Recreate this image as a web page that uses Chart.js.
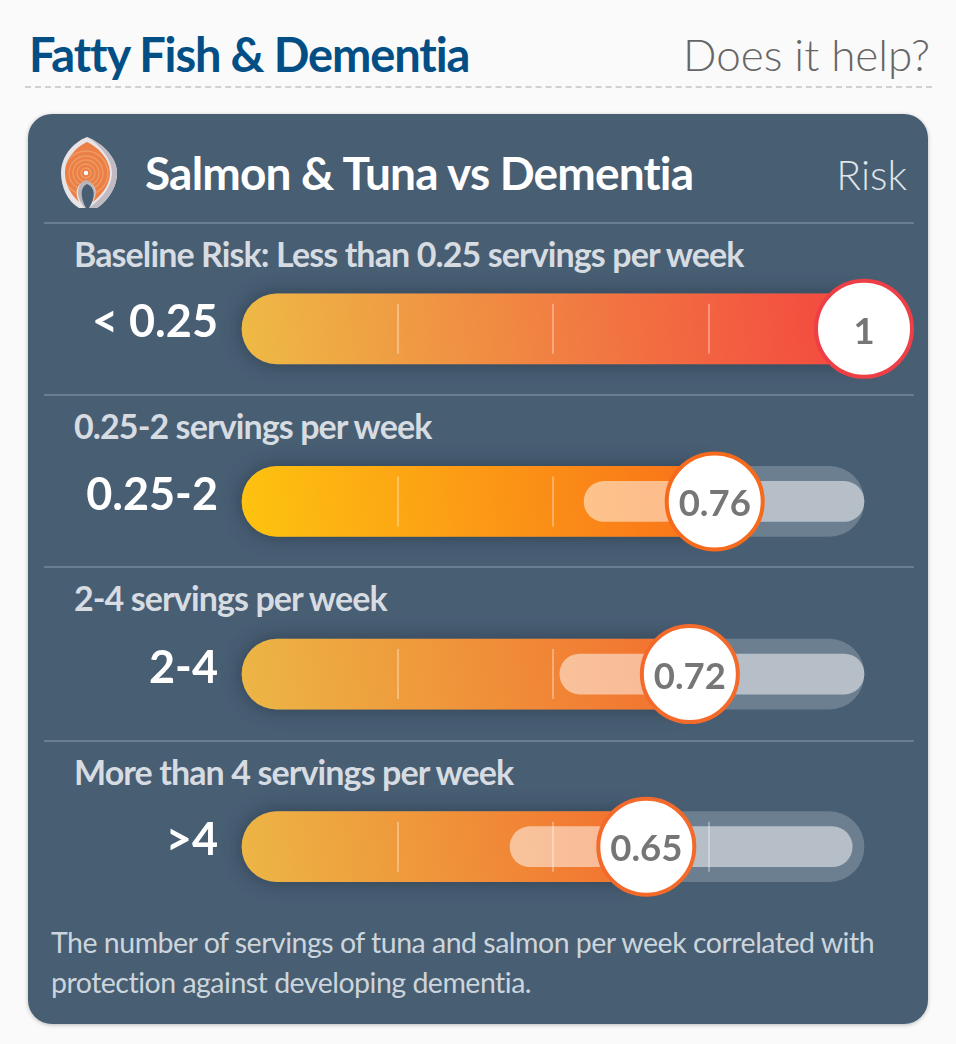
<!DOCTYPE html>
<html><head><meta charset="utf-8">
<script src="https://cdn.jsdelivr.net/npm/chart.js@4"></script>
<style>
html,body{margin:0;padding:0;background:#fafafa;width:956px;height:1044px;overflow:hidden;font-family:Lato,sans-serif}
.abs{position:absolute;white-space:nowrap}
#card{position:absolute;left:28px;top:114px;width:900px;height:910px;border-radius:24px;background:#485e73;box-shadow:0 1px 4px rgba(0,0,0,.25)}
#dash{position:absolute;left:25px;top:86px;width:907px;border-top:2px dashed #cfd2d4}
.sep{position:absolute;left:44px;width:870px;height:2px;background:#6a7e91}
.sub{font-size:34px;font-weight:700;color:#d6dce1;letter-spacing:-.9px;left:74px;line-height:40px}
canvas{position:absolute;left:0;top:0}
</style></head><body>
<div class="abs" style="left:29px;top:24px;font-size:47px;line-height:60px;font-weight:700;color:#034f85;letter-spacing:-1.13px">Fatty Fish &amp; Dementia</div>
<div class="abs" style="right:26px;top:24px;font-size:44px;line-height:60px;font-weight:300;color:#666;">Does it help?</div>
<div id="dash"></div>
<div id="card"></div>
<svg class="abs" style="left:60px;top:137px" width="60" height="72" viewBox="0 0 60 72">
<path d="M27 0C42 6 57 20 57 36C57 52 46 65 37 71L29 71L24 71L19 71C8 65 1 50 1 36C1 20 12 6 27 0Z" fill="#e8e5e8"/>
<path d="M27 0C42 6 57 20 57 36C57 52 46 65 37 71L29 71C44 60 52 48 52 36C52 22 40 8 27 0Z" fill="#c0bac2"/>
<clipPath id="fl"><path d="M27 5C38 10 50 22 50 36C50 46 44 56 33 65C38 55 36 46 26 44C17 46 14 55 19 65C10 57 5 46 5 36C5 22 16 10 27 5Z"/></clipPath>
<g clip-path="url(#fl)">
<rect width="60" height="72" fill="#ea8046"/>
<g fill="none" stroke="#f09a66" stroke-width="1.3"><circle cx="26" cy="36" r="5"/><circle cx="26" cy="36" r="9"/><circle cx="26" cy="36" r="13"/><circle cx="26" cy="36" r="17"/><circle cx="26" cy="36" r="22"/></g>
</g>
<path d="M26 43C16 47 15 60 25 71L28 71C38 60 37 47 26 43Z" fill="#b9b3bb"/>
<path d="M27 47C20 50 20 60 26 71L29 71C36 60 35 50 27 47Z" fill="#485e73"/>
<circle cx="26" cy="36" r="2.2" fill="#fff"/>
</svg>
<div class="abs" style="left:145px;top:143px;font-size:46px;line-height:60px;font-weight:700;color:#fff;letter-spacing:-.82px">Salmon &amp; Tuna vs Dementia</div>
<div class="abs" style="right:49px;top:145px;font-size:41px;line-height:60px;font-weight:300;color:#dfe4e8">Risk</div>
<div id="rows"></div>
<div class="abs" style="left:51px;top:922px;font-size:28.5px;line-height:40px;font-weight:400;color:#cdd5dc;letter-spacing:-.5px">The number of servings of tuna and salmon per week correlated with<br>protection against developing dementia.</div>
<canvas id="c" width="956" height="1044"></canvas>
<script>
const categories=["< 0.25","0.25-2","2-4",">4"];
const descriptions=["Baseline Risk: Less than 0.25 servings per week","0.25-2 servings per week","2-4 servings per week","More than 4 servings per week"];
const risk=[1,0.76,0.72,0.65];
const ciLow=[null,0.55,0.511,0.431];
const ciHigh=[null,1.0,1.0,0.981];
const trackEnd=[1,1,1,1];
const markers=[0.25,0.5,0.75];
const gradStart=["#eeba45","#fec310","#ecb645","#ecb645"];
const gradEnd=["#f4453f","#f9701a","#f36f2f","#f36f2f"];
const ringColors=["#ee3f47","#f56a1c","#f36a2a","#f36a2a"];
const sepTops=[222,394,566,740], subTops=[234,406,578,752];

const rows=document.getElementById('rows');
sepTops.forEach((t,i)=>{
  const s=document.createElement('div');s.className='sep';s.style.top=t+'px';rows.appendChild(s);
  const d=document.createElement('div');d.className='abs sub';d.style.top=subTops[i]+'px';d.textContent=descriptions[i];rows.appendChild(d);
});

function fillGrad(ctx){
  const c=ctx.chart, i=ctx.dataIndex, a=c.chartArea;
  if(!a) return gradStart[i];
  const x=c.scales.x, y0=c.scales.y.getPixelForValue(i);
  const x0=x.getPixelForValue(0), x1=x.getPixelForValue(risk[i]);
  const g=c.ctx.createLinearGradient(x0,y0+35,x1,y0-35);
  g.addColorStop(0,gradStart[i]);g.addColorStop(1,gradEnd[i]);
  return g;
}
const shadowPlugin={id:'shadows',
  beforeDatasetDraw(c,args){
    const ds=c.data.datasets[args.index];
    c.ctx.save();
    if(ds.castShadow){c.ctx.shadowColor='rgba(20,30,45,.45)';c.ctx.shadowBlur=20;c.ctx.shadowOffsetY=0;}
  },
  afterDatasetDraw(c,args){
    c.ctx.restore();
    const ds=c.data.datasets[args.index];
    if(ds.drawMarkers){
      const ctx=c.ctx,x=c.scales.x,y=c.scales.y;
      ctx.save();ctx.strokeStyle='rgba(255,255,255,.32)';ctx.lineWidth=2;
      categories.forEach((_,i)=>{markers.forEach(m=>{
        const px=Math.round(x.getPixelForValue(m)), py=y.getPixelForValue(i);
        ctx.beginPath();ctx.moveTo(px,py-25);ctx.lineTo(px,py+25);ctx.stroke();});});
      ctx.restore();
    }
    if(ds.drawValues){
      const ctx=c.ctx,meta=c.getDatasetMeta(args.index);
      ctx.save();ctx.fillStyle='#767676';ctx.font='700 36.5px Lato';ctx.textAlign='center';ctx.textBaseline='middle';
      meta.data.forEach((p,i)=>ctx.fillText(String(risk[i]),p.x,p.y+3));
      ctx.restore();
    }
  }};
new Chart(document.getElementById('c'),{
  plugins:[shadowPlugin],
  data:{labels:categories,datasets:[
    {type:'bar',label:'Scale',data:trackEnd.map(v=>[0,v]),backgroundColor:'#6c7f90',barThickness:70,borderRadius:35,borderSkipped:false,order:5,clip:false,grouped:false},
    {type:'bar',label:'Risk',data:risk.map(v=>[0,v]),backgroundColor:fillGrad,barThickness:70,borderRadius:{topLeft:35,bottomLeft:35,topRight:0,bottomRight:0},borderSkipped:false,order:4,clip:false,grouped:false,castShadow:true,drawMarkers:true},
    {type:'bar',label:'Confidence interval',data:ciLow.map((v,i)=>v===null?null:[v,ciHigh[i]]),backgroundColor:'rgba(255,255,255,.5)',barThickness:40,borderRadius:20,borderSkipped:false,order:3,clip:false,grouped:false},
    {type:'line',label:'Relative risk',indexAxis:'y',data:risk,showLine:false,pointRadius:48,pointHoverRadius:48,pointBackgroundColor:'#fff',pointBorderColor:ringColors,pointBorderWidth:4,order:1,clip:false,drawValues:true,castShadow:false}
  ]},
  options:{indexAxis:'y',responsive:false,animation:false,devicePixelRatio:1,
    layout:{padding:{left:0,right:92,top:242.5,bottom:111}},
    plugins:{legend:{display:false},tooltip:{enabled:false}},
    scales:{
      x:{display:false,min:0,max:1},
      y:{afterFit(s){s.width=242;},grid:{display:false,drawTicks:false},border:{display:false},
         ticks:{color:'#fff',font:{family:'Lato',size:45,weight:'700'},padding:24,labelOffset:-6}}
    }}
});
</script>
</body></html>
